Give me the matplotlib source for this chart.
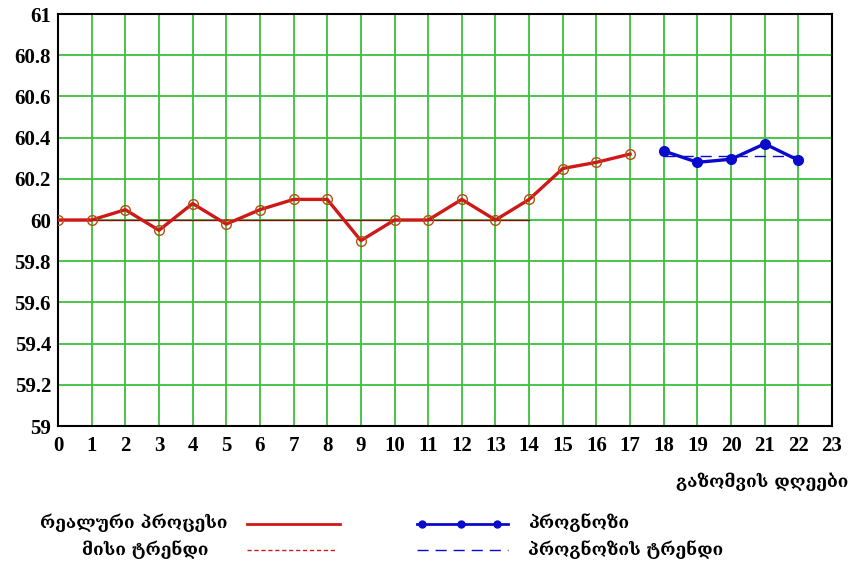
import numpy as np
from matplotlib import pyplot as plt
from matplotlib.lines import Line2D

# measured process (days 0-17) and forecast (days 18-22)
days_real = list(range(0, 18))
real_values = [60.0, 60.0, 60.05, 59.95, 60.08, 59.98, 60.05, 60.1, 60.1,
               59.9, 60.0, 60.0, 60.1, 60.0, 60.1, 60.25, 60.28, 60.32]
trend_days = [0, 14]
trend_values = [60.0, 60.0]

days_fc = [18, 19, 20, 21, 22]
fc_values = [60.335, 60.28, 60.295, 60.37, 60.29]
fc_trend_days = [18, 22]
fc_trend_values = [60.31, 60.31]

x_ticks = list(range(0, 24))
y_ticks = [59, 59.2, 59.4, 59.6, 59.8, 60, 60.2, 60.4, 60.6, 60.8, 61]
y_labels = ['59', '59.2', '59.4', '59.6', '59.8', '60', '60.2', '60.4', '60.6', '60.8', '61']

geo_font = ['DejaVu Serif', 'DejaVu Sans']
num_font = ['Liberation Serif', 'DejaVu Serif']

fig = plt.figure(figsize=(8.54, 5.65), dpi=100)
ax = fig.add_axes([58 / 854, 1 - 426 / 565, (832 - 58) / 854, (426 - 14) / 565])

red = '#d01818'
blue = '#0a0acc'

ax.plot(trend_days, trend_values, color='#801010', linewidth=1.0, zorder=3)
ax.plot(days_real, real_values, color=red, linewidth=2.4, marker='o', markersize=7,
        markerfacecolor='none', markeredgecolor='#b05010', markeredgewidth=1.0, zorder=4)
ax.plot(fc_trend_days, fc_trend_values, color=blue, linewidth=1.0, dashes=(8, 5), zorder=3)
ax.plot(days_fc, fc_values, color=blue, linewidth=2.4, marker='o', markersize=7,
        markerfacecolor=blue, markeredgecolor=blue, zorder=4)

ax.set_xlim(0, 23)
ax.set_ylim(59, 61)
ax.set_xticks(x_ticks)
ax.set_yticks(y_ticks)
ax.set_yticklabels(y_labels)
ax.grid(True, color='#3cc03c', linewidth=1.3)
ax.set_axisbelow(True)
ax.tick_params(axis='y', length=0, pad=5)
ax.tick_params(axis='x', length=0, pad=7)
for lab in ax.get_xticklabels() + ax.get_yticklabels():
    lab.set_family(num_font)
    lab.set_fontweight('bold')
    lab.set_fontsize(15)
for sp in ax.spines.values():
    sp.set_linewidth(1.5)
    sp.set_color('black')

fig.text(848 / 854, 1 - 482 / 565, 'გაზომვის დღეები', ha='right', va='center',
         family=geo_font, fontweight='bold', fontsize=12.5)

# legend drawn by hand below the chart
fig.text(228 / 854, 1 - 523 / 565, 'რეალური პროცესი', ha='right', va='center',
         family=geo_font, fontweight='bold', fontsize=12.5)
fig.text(209 / 854, 1 - 550 / 565, 'მისი ტრენდი', ha='right', va='center',
         family=geo_font, fontweight='bold', fontsize=12.5)
fig.text(528 / 854, 1 - 523 / 565, 'პროგნოზი', ha='left', va='center',
         family=geo_font, fontweight='bold', fontsize=12.5)
fig.text(528 / 854, 1 - 550 / 565, 'პროგნოზის ტრენდი', ha='left', va='center',
         family=geo_font, fontweight='bold', fontsize=12.5)

fig.add_artist(Line2D([247 / 854, 340 / 854], [1 - 524 / 565] * 2,
                      color=red, linewidth=2, transform=fig.transFigure))
fig.add_artist(Line2D([247 / 854, 335 / 854], [1 - 550 / 565] * 2,
                      color=red, linewidth=1, dashes=(3, 2), transform=fig.transFigure))
fig.add_artist(Line2D([417 / 854, 508 / 854], [1 - 524 / 565] * 2,
                      color=blue, linewidth=2, transform=fig.transFigure))
fig.add_artist(Line2D(np.array([422, 461, 497]) / 854, [1 - 524 / 565] * 3,
                      color=blue, linestyle='none', marker='o', markersize=5,
                      transform=fig.transFigure))
fig.add_artist(Line2D([417 / 854, 508 / 854], [1 - 550 / 565] * 2,
                      color=blue, linewidth=1, dashes=(8, 5), transform=fig.transFigure))

fig.savefig('out.png', dpi=100)
